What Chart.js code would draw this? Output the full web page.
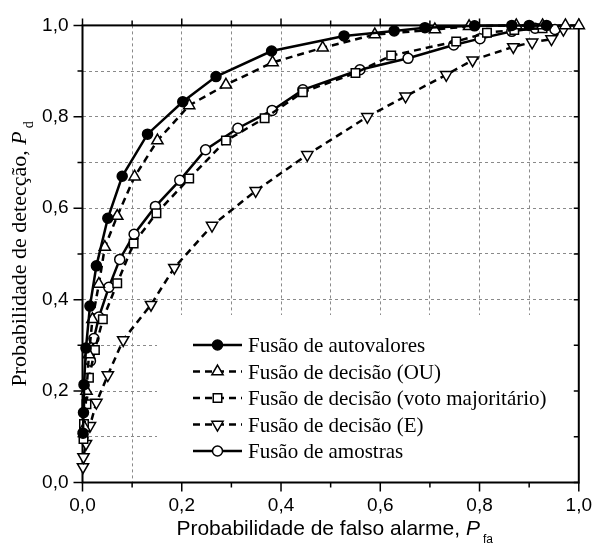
<!DOCTYPE html>
<html lang="pt">
<head>
<meta charset="UTF-8" />
<title>Curvas ROC</title>
<script src="https://cdn.jsdelivr.net/npm/chart.js@4.4.1/dist/chart.umd.min.js"></script>
<style>
 html, body { margin: 0; padding: 0; background: #fff; }
 #wrap { width: 604px; height: 547px; }
</style>
</head>
<body>
<div id="wrap"><canvas id="roc" width="604" height="547"></canvas></div>
<script>
// rótulos dos eixos
const xTickLabels = ['0,0', '0,2', '0,4', '0,6', '0,8', '1,0']
const yTickLabels = ['0,0', '0,2', '0,4', '0,6', '0,8', '1,0']
const xTitle = 'Probabilidade de falso alarme, '
const yTitle = 'Probabilidade de detecção, '

const seriesNames = [
 'Fusão de autovalores',
 'Fusão de decisão (OU)',
 'Fusão de decisão (voto majoritário)',
 'Fusão de decisão (E)',
 'Fusão de amostras'
]

// Fusão de autovalores
const autoX = [0.001, 0.002, 0.003, 0.007, 0.015, 0.028, 0.051, 0.080, 0.131, 0.202, 0.269, 0.381, 0.527, 0.628, 0.690, 0.790, 0.865, 0.900, 0.935]
const autoY = [0.108, 0.153, 0.214, 0.294, 0.386, 0.474, 0.578, 0.670, 0.762, 0.833, 0.888, 0.944, 0.977, 0.988, 0.995, 0.999, 1.0, 1.0, 1.0]

// Fusão de decisão (OU)
const ouX = [0.004, 0.008, 0.013, 0.020, 0.033, 0.045, 0.070, 0.105, 0.151, 0.215, 0.289, 0.383, 0.484, 0.589, 0.710, 0.779, 0.874, 0.927, 0.973, 1.0]
const ouY = [0.12, 0.20, 0.28, 0.357, 0.434, 0.515, 0.583, 0.669, 0.748, 0.825, 0.870, 0.919, 0.951, 0.980, 0.991, 0.998, 1.0, 1.0, 1.0, 1.0]

// Fusão de decisão (voto majoritário)
const votoX = [0.002, 0.003, 0.008, 0.013, 0.025, 0.041, 0.070, 0.103, 0.149, 0.215, 0.289, 0.367, 0.444, 0.550, 0.622, 0.753, 0.815, 0.870, 0.927]
const votoY = [0.095, 0.128, 0.171, 0.229, 0.290, 0.357, 0.436, 0.523, 0.589, 0.665, 0.748, 0.797, 0.854, 0.896, 0.934, 0.965, 0.984, 0.990, 0.994]

// Fusão de decisão (E)
const eX = [0.001, 0.002, 0.007, 0.015, 0.028, 0.051, 0.082, 0.138, 0.185, 0.261, 0.349, 0.453, 0.574, 0.651, 0.733, 0.786, 0.868, 0.906, 0.945, 0.969]
const eY = [0.034, 0.056, 0.085, 0.124, 0.175, 0.235, 0.312, 0.389, 0.470, 0.562, 0.638, 0.717, 0.800, 0.845, 0.892, 0.924, 0.953, 0.963, 0.970, 0.991]

// Fusão de amostras
const amoX = [0.016, 0.023, 0.033, 0.053, 0.075, 0.104, 0.147, 0.196, 0.248, 0.313, 0.382, 0.444, 0.559, 0.656, 0.748, 0.801, 0.865, 0.912, 0.952]
const amoY = [0.266, 0.315, 0.362, 0.427, 0.488, 0.543, 0.604, 0.661, 0.728, 0.775, 0.814, 0.859, 0.903, 0.928, 0.957, 0.971, 0.987, 0.994, 0.991]

const toPoints = (xs, ys) => xs.map((x, i) => ({ x: x, y: ys[i] }))

const dash = [7, 5]
const base = {
 showLine: true,
 tension: 0,
 borderColor: '#000',
 borderWidth: 2.5,
 pointBorderColor: '#000',
 pointBorderWidth: 1.5,
 clip: false
}

const datasets = [
 Object.assign({}, base, { label: seriesNames[0], data: toPoints(autoX, autoY), pointStyle: 'circle', pointRadius: 5, pointBackgroundColor: '#000' }),
 Object.assign({}, base, { label: seriesNames[1], data: toPoints(ouX, ouY), borderDash: dash, pointStyle: 'triangle', pointRadius: 6.5, pointBackgroundColor: '#fff' }),
 Object.assign({}, base, { label: seriesNames[2], data: toPoints(votoX, votoY), borderDash: dash, pointStyle: 'rect', pointRadius: 6, pointBackgroundColor: '#fff' }),
 Object.assign({}, base, { label: seriesNames[3], data: toPoints(eX, eY), borderDash: dash, pointStyle: 'triangle', pointRotation: 180, pointRadius: 6.5, pointBackgroundColor: '#fff' }),
 Object.assign({}, base, { label: seriesNames[4], data: toPoints(amoX, amoY), pointStyle: 'circle', pointRadius: 5, pointBackgroundColor: '#fff' })
]

// moldura, marcas dos eixos e caixa da legenda (por baixo das curvas)
const framePlugin = {
 id: 'frame',
 beforeDatasetsDraw(chart) {
  const ctx = chart.ctx
  const a = chart.chartArea
  const xs = chart.scales.x
  const ys = chart.scales.y
  ctx.save()
  // caixa branca da legenda cobre a grade
  ctx.fillStyle = '#fff'
  ctx.fillRect(157, 315, a.right - 157, a.bottom - 315)

  ctx.strokeStyle = '#000'
  ctx.lineWidth = 1.5
  ctx.setLineDash([])
  for (let i = 0; i <= 10; i++) {
   const v = i / 10
   const major = i % 2 === 0
   const px = xs.getPixelForValue(v)
   const py = ys.getPixelForValue(v)
   ctx.beginPath()
   ctx.moveTo(px, a.bottom); ctx.lineTo(px, a.bottom + (major ? 9 : 5))
   ctx.moveTo(px, a.top); ctx.lineTo(px, a.top - (major ? 7 : 5))
   ctx.moveTo(a.left, py); ctx.lineTo(a.left - (major ? 9 : 5), py)
   ctx.moveTo(a.right, py); ctx.lineTo(a.right - 5, py)
   ctx.stroke()
  }
  ctx.lineWidth = 2
  ctx.strokeRect(a.left, a.top, a.right - a.left, a.bottom - a.top)
  ctx.restore()
 },
 afterDatasetsDraw(chart) {
  const ctx = chart.ctx
  const a = chart.chartArea
  ctx.save()
  // legenda
  const rowY = [345, 371.5, 398, 424.5, 451]
  chart.data.datasets.forEach((ds, i) => {
   const y = rowY[i]
   ctx.strokeStyle = '#000'
   ctx.lineWidth = 2.5
   ctx.setLineDash(ds.borderDash || [])
   ctx.beginPath()
   ctx.moveTo(193, y); ctx.lineTo(242, y)
   ctx.stroke()
   ctx.setLineDash([])
   ctx.fillStyle = ds.pointBackgroundColor
   ctx.lineWidth = 1.5
   Chart.helpers.drawPoint(ctx, {
    pointStyle: ds.pointStyle,
    rotation: ds.pointRotation || 0,
    radius: ds.pointRadius,
    borderWidth: 1.5
   }, 217.5, y)
   ctx.fillStyle = '#000'
   ctx.font = '21px "Liberation Serif"'
   ctx.textAlign = 'left'
   ctx.textBaseline = 'alphabetic'
   ctx.fillText(ds.label, 248, y + 7)
  })

  // título do eixo x
  ctx.fillStyle = '#000'
  ctx.textBaseline = 'alphabetic'
  ctx.textAlign = 'left'
  const fMain = '21px "Liberation Sans"'
  const fItal = 'italic 21px "Liberation Sans"'
  const fSub = '12px "Liberation Sans"'
  ctx.font = fMain
  const w1 = ctx.measureText(xTitle).width
  ctx.font = fItal
  const w2 = ctx.measureText('P').width
  ctx.font = fSub
  const w3 = ctx.measureText('fa').width
  let x0 = (a.left + a.right) / 2 + 4 - (w1 + w2 + w3 + 3) / 2
  const yb = 535
  ctx.font = fMain
  ctx.fillText(xTitle, x0, yb)
  ctx.font = fItal
  ctx.fillText('P', x0 + w1, yb)
  ctx.font = fSub
  ctx.fillText('fa', x0 + w1 + w2 + 3, yb + 8)

  // título do eixo y
  ctx.translate(26, (a.top + a.bottom) / 2)
  ctx.rotate(-Math.PI / 2)
  const gMain = '22px "Liberation Serif"'
  const gItal = 'italic 22px "Liberation Serif"'
  const gSub = '14px "Liberation Serif"'
  ctx.font = gMain
  const v1 = ctx.measureText(yTitle).width
  ctx.font = gItal
  const v2 = ctx.measureText('P').width
  ctx.font = gSub
  const v3 = ctx.measureText('d').width
  const s0 = -(v1 + v2 + v3 + 3) / 2
  ctx.font = gMain
  ctx.fillText(yTitle, s0, 0)
  ctx.font = gItal
  ctx.fillText('P', s0 + v1, 0)
  ctx.font = gSub
  ctx.fillText('d', s0 + v1 + v2 + 3, 7)
  ctx.restore()
 }
}

new Chart(document.getElementById('roc'), {
 type: 'scatter',
 data: { datasets: datasets },
 plugins: [framePlugin],
 options: {
  responsive: false,
  animation: false,
  devicePixelRatio: 1,
  layout: { padding: { left: 0, right: 13.5, top: 20, bottom: 0 } },
  plugins: { legend: { display: false }, tooltip: { enabled: false } },
  scales: {
   x: {
    type: 'linear',
    min: 0,
    max: 1,
    afterFit: s => { s.height = 64.5 },
    grid: { color: '#8a8a8a', lineWidth: 1, drawTicks: false },
    border: { display: false, dash: [3, 3] },
    ticks: {
     stepSize: 0.1,
     autoSkip: false,
     maxRotation: 0,
     padding: 12,
     color: '#000',
     font: { family: 'Liberation Sans', size: 19 },
     callback: (v, i) => (i % 2 === 0 ? xTickLabels[i / 2] : '')
    }
   },
   y: {
    type: 'linear',
    min: 0,
    max: 1,
    afterFit: s => { s.width = 82.5 },
    grid: { color: '#8a8a8a', lineWidth: 1, drawTicks: false },
    border: { display: false, dash: [3, 3] },
    ticks: {
     stepSize: 0.1,
     autoSkip: false,
     padding: 14,
     color: '#000',
     font: { family: 'Liberation Sans', size: 19 },
     callback: (v, i) => (i % 2 === 0 ? yTickLabels[i / 2] : '')
    }
   }
  }
 }
})
</script>
</body>
</html>
